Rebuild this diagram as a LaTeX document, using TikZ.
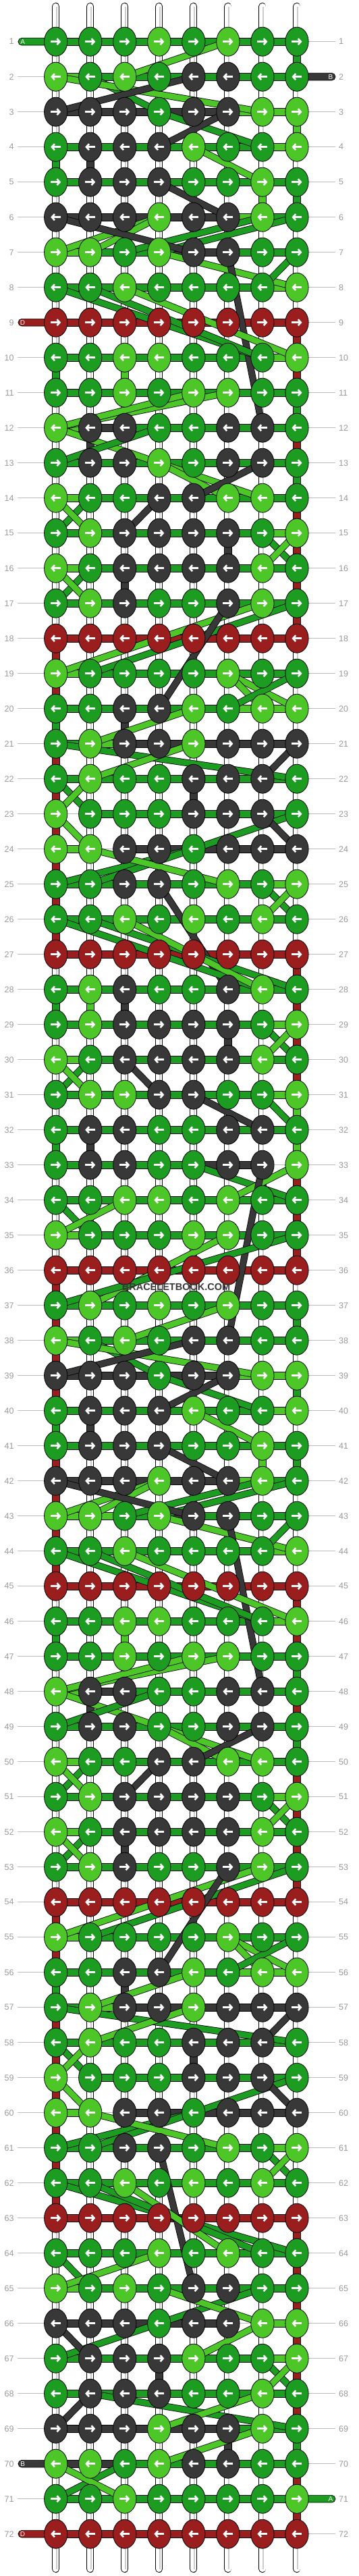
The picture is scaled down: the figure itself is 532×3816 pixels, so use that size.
\documentclass[tikz,border=0pt]{standalone}
\usepackage{fontspec}
\setmainfont{Liberation Sans}
\usetikzlibrary{shapes.geometric,arrows.meta}
\definecolor{kG}{HTML}{1C9C21}
\definecolor{kL}{HTML}{4DC628}
\definecolor{kD}{HTML}{383838}
\definecolor{kR}{HTML}{9A1E1E}
\definecolor{lblgray}{HTML}{999999}
\definecolor{linegray}{HTML}{BBBBBB}
\definecolor{strgray}{HTML}{CCCCCC}
\tikzset{
 knot/.style={ellipse, draw=black, line width=0.8pt, minimum width=34.3pt, minimum height=43pt, inner sep=0pt},
 barG/.style={fill=kG,draw=black,line width=0.7pt},
 barL/.style={fill=kL,draw=black,line width=0.7pt},
 barD/.style={fill=kD,draw=black,line width=0.7pt},
 barR/.style={fill=kR,draw=black,line width=0.7pt},
 barN/.style={draw=none,fill=none},
 thrG/.style={draw=kG, line width=8.6pt, preaction={draw=black, line width=10.2pt}},
 thrL/.style={draw=kL, line width=8.6pt, preaction={draw=black, line width=10.2pt}},
 thrD/.style={draw=kD, line width=8.6pt, preaction={draw=black, line width=10.2pt}},
 lbl/.style={text=lblgray, font=\fontsize{12.5}{13}\selectfont, inner sep=0pt},
 pilltxt/.style={text=white, font=\fontsize{10}{10}\selectfont, inner sep=0pt},
 arr/.style={white, line width=2.6pt, -{Straight Barb[length=4pt,width=9pt]}},
 glabel/.style={linegray, line width=0.8pt},
}
\def\rowdata{
1/{G,G,G,L,G,L,G,G}/{G,G,G,G,G,G,G},
2/{L,G,L,G,D,D,G,G}/{L,G,G,G,G,G,G},
3/{D,D,D,G,D,D,L,L}/{D,D,D,D,D,L,L},
4/{G,D,D,D,L,G,G,L}/{G,G,G,G,G,G,L},
5/{G,D,D,D,G,G,L,G}/{G,G,G,G,G,G,G},
6/{D,D,D,L,D,D,L,G}/{D,D,D,D,D,L,G},
7/{L,L,G,L,D,D,G,G}/{L,G,G,D,D,G,G},
8/{G,G,L,G,G,G,G,L}/{G,G,G,G,G,G,L},
9/{R,R,R,R,R,R,R,R}/{R,R,R,R,R,R,R},
10/{G,G,L,L,G,G,G,L}/{G,G,G,G,G,G,L},
11/{G,G,L,G,L,L,G,G}/{G,G,G,G,G,G,G},
12/{L,D,D,G,G,D,D,G}/{L,D,G,G,G,G,G},
13/{G,D,D,L,G,D,D,G}/{G,G,G,G,G,G,G},
14/{L,G,G,D,D,L,L,G}/{L,G,G,G,G,G,G},
15/{G,L,D,D,D,D,G,L}/{G,G,G,G,G,G,L},
16/{L,G,D,D,D,D,L,G}/{L,G,G,G,G,G,G},
17/{G,L,D,G,G,D,L,G}/{G,G,G,G,G,G,G},
18/{R,R,R,R,R,R,R,R}/{R,R,R,R,R,R,R},
19/{L,G,G,G,G,L,G,G}/{L,G,G,G,G,G,G},
20/{G,G,D,D,L,G,L,L}/{G,G,G,G,G,L,L},
21/{G,L,D,D,L,D,D,D}/{G,L,D,D,D,D,D},
22/{G,L,G,G,D,D,D,G}/{G,G,G,G,G,G,G},
23/{L,G,G,G,D,D,D,G}/{N,G,G,G,G,G,G},
24/{L,L,D,D,G,D,D,D}/{L,N,D,D,D,D,D},
25/{G,G,D,D,G,L,G,L}/{G,G,G,G,G,G,L},
26/{G,G,L,G,L,G,L,G}/{G,G,G,G,G,G,G},
27/{R,R,R,R,R,R,R,R}/{R,R,R,R,R,R,R},
28/{G,L,D,G,G,D,L,G}/{G,G,G,G,G,G,G},
29/{G,L,D,D,D,D,G,L}/{G,G,G,G,G,G,L},
30/{L,G,D,D,D,D,L,G}/{L,G,G,G,G,G,G},
31/{G,L,L,D,D,G,G,L}/{G,G,G,G,G,G,L},
32/{G,D,D,G,G,D,D,G}/{G,G,G,G,G,G,G},
33/{G,D,D,G,G,D,D,L}/{G,G,G,G,D,D,N},
34/{G,G,L,L,G,L,G,G}/{G,G,G,G,G,G,G},
35/{L,G,G,G,L,L,G,G}/{L,G,G,G,G,G,G},
36/{R,R,R,R,R,R,R,R}/{R,R,R,R,R,R,R},
37/{G,L,G,L,G,L,G,G}/{G,G,G,G,G,G,G},
38/{L,G,L,G,D,D,G,G}/{L,G,G,G,G,G,G},
39/{D,D,D,G,D,D,L,L}/{D,D,D,D,D,L,L},
40/{G,D,D,D,L,G,G,L}/{G,G,G,G,G,G,L},
41/{G,D,D,D,G,G,L,G}/{G,G,G,G,G,G,G},
42/{D,D,D,L,D,D,L,G}/{D,D,D,D,D,L,G},
43/{L,L,G,L,D,D,G,G}/{L,L,G,D,G,G,G},
44/{G,G,L,G,G,G,G,L}/{G,G,G,G,G,G,L},
45/{R,R,R,R,R,R,R,R}/{R,R,R,R,R,R,R},
46/{G,G,L,L,G,G,G,L}/{G,G,G,G,G,G,L},
47/{G,G,L,G,L,L,G,G}/{G,G,G,G,G,G,G},
48/{L,D,D,G,G,D,D,G}/{L,D,G,G,G,G,G},
49/{G,D,D,G,G,D,D,G}/{G,G,G,G,G,G,G},
50/{L,G,G,D,D,L,L,G}/{L,G,G,G,G,G,G},
51/{G,L,D,D,D,D,G,L}/{G,G,G,G,G,G,L},
52/{L,G,D,D,D,D,L,G}/{L,G,G,G,G,G,G},
53/{G,L,D,G,G,D,L,G}/{G,G,G,G,G,G,G},
54/{R,R,R,R,R,R,R,R}/{R,R,R,R,R,R,R},
55/{L,G,G,G,G,L,G,G}/{L,G,G,G,G,G,G},
56/{G,G,D,D,L,G,L,L}/{G,G,G,G,G,L,L},
57/{G,L,D,D,L,D,D,D}/{G,L,D,D,D,D,D},
58/{G,L,G,G,D,D,D,G}/{G,G,G,G,G,G,G},
59/{L,G,G,G,D,D,D,G}/{N,G,G,G,G,G,G},
60/{L,L,D,D,G,D,D,D}/{L,N,D,D,D,D,D},
61/{G,G,D,D,G,L,G,L}/{G,G,G,G,G,G,L},
62/{G,G,L,G,L,G,L,G}/{G,G,G,G,G,G,G},
63/{R,R,R,R,R,R,R,R}/{R,R,R,R,R,R,R},
64/{G,G,G,L,G,L,G,G}/{G,G,G,G,G,G,G},
65/{L,G,L,G,D,D,G,G}/{L,G,G,G,G,G,G},
66/{D,D,D,G,D,D,L,L}/{D,D,D,D,D,N,L},
67/{G,D,D,D,L,G,G,L}/{G,G,G,G,G,G,L},
68/{G,D,D,D,G,G,L,G}/{G,G,G,G,G,G,G},
69/{D,D,D,L,D,D,L,G}/{D,D,D,D,D,G,G},
70/{L,L,G,L,D,D,G,G}/{D,D,G,G,G,G,G},
71/{G,G,L,G,G,G,G,L}/{G,G,G,G,G,G,G},
72/{R,R,R,R,R,R,R,R}/{R,R,R,R,R,R,R}}
\begin{document}
\begin{tikzpicture}[x=1pt,y=-1pt]
\useasboundingbox (0,0) rectangle (532,3816);
\fill[white] (0,0) rectangle (532,3816);
% row label guide lines
\foreach \r in {1,...,72}{
  \pgfmathsetmacro\y{61.7+52*(\r-1)}
  \coordinate (gl\r) at (26,\y);
  \coordinate (gr\r) at (497,\y);
  \draw[glabel] (gl\r) -- (gr\r);
}
% base strings
\foreach \c in {1,...,8}{
  \pgfmathsetmacro\x{82.7+51.04*(\c-1)}
  \coordinate (st\c) at (\x,9.5);
  \coordinate (sb\c) at (\x,3805.5);
  \draw[black, line width=11pt, line cap=round] (st\c) -- (sb\c);
  \draw[white, line width=9.2pt, line cap=round] (st\c) -- (sb\c);
  \draw[strgray, line width=1.8pt] ([xshift=1.4pt,yshift=-1pt]st\c) -- ([xshift=1.4pt]sb\c);
}
% coloured vertical stubs
\foreach \c/\r/\k in {8/1/G,8/3/L,8/5/G,1/4/G,2/4/D,7/5/L,1/10/G,3/10/L,2/12/D,
  8/9/R,8/10/R,8/11/G,8/12/R,8/13/G,8/14/R,8/15/R,8/16/R,8/17/R,6/15/D,3/16/D,
  1/18/R,1/19/R,1/20/G,1/21/R,1/22/R,1/23/R,1/24/R,1/25/R,1/26/R,3/20/D,5/22/D,
  8/27/R,8/28/R,8/29/R,8/30/R,8/31/L,8/32/L,8/33/R,8/34/R,8/35/R,
  1/28/G,2/28/L,3/28/D,6/29/D,1/32/G,2/32/D,7/33/D,
  1/36/R,1/37/R,1/38/R,1/39/R,1/40/G,1/41/R,1/42/R,1/43/R,1/44/R,
  8/37/G,8/39/G,2/40/D,7/41/L,8/41/G,
  8/45/R,8/46/R,8/47/G,8/48/R,8/49/G,8/50/R,8/51/R,8/52/R,8/53/R,
  1/46/G,3/46/L,2/48/D,3/52/D,
  1/54/R,1/55/R,1/56/G,1/57/R,1/58/R,1/59/R,1/60/R,1/61/R,1/62/R,3/56/D,5/58/D,
  8/63/R,8/64/R,8/65/R,8/66/R,8/67/R,8/68/R,8/69/G,8/70/R,8/71/R,4/67/D,6/69/D}{
  \pgfmathsetmacro\x{82.7+51.04*(\c-1)}
  \pgfmathsetmacro\ya{61.7+52*(\r-1)}
  \pgfmathsetmacro\yb{\ya+52}
  \path[bar\k] (\x-5.3,\ya) rectangle (\x+5.3,\yb);
}
% pass 1: horizontal bars and knot positions
\foreach \r/\ks/\bs in \rowdata {
  \pgfmathsetmacro\y{61.7+52*(\r-1)}
  \foreach \b [count=\j] in \bs {
    \pgfmathsetmacro\xa{82.7+51.04*(\j-1)}
    \pgfmathsetmacro\xb{\xa+51.04}
    \path[bar\b] (\xa,\y-5.35) rectangle (\xb,\y+5.35);
  }
  \foreach \c in {1,...,8}{
    \pgfmathsetmacro\x{82.7+51.04*(\c-1)}
    \coordinate (p\r-\c) at (\x,\y);
  }
}
% thread end pills
\foreach \r/\k/\t/\s in {1/G/A/l,2/D/B/r,9/R/D/l,70/D/B/l,71/G/A/r,72/R/D/l}{
  \pgfmathsetmacro\y{61.7+52*(\r-1)}
  \if l\s
    \path[bar\k, rounded corners=5.3pt] (27,\y-5.35) rectangle (90,\y+5.35);
    \node[pilltxt] (p\r) at (33.6,\y) {\t};
  \else
    \path[bar\k, rounded corners=5.3pt] (432,\y-5.35) rectangle (497,\y+5.35);
    \node[pilltxt] (p\r) at (490,\y) {\t};
  \fi
}
% diagonal threads, repeated blocks
\foreach \o in {0,36}{
  \foreach \a/\b/\e/\f/\k in {1/6/2/3/L,2/2/3/4/G,3/4/4/7/G,2/1/3/7/L,3/1/2/5/D,4/4/3/6/D,
    4/5/5/7/L,5/4/6/6/D,6/8/7/4/G,6/7/7/3/G,6/4/7/1/L,6/4/7/2/L,6/1/7/5/D,7/4/8/8/L,
    7/6/12/7/D,7/8/8/7/G,8/1/10/7/G,8/2/10/7/G,8/3/10/8/L,
    11/6/12/1/L,11/5/12/1/L,12/1/13/4/L,13/1/12/4/G,13/4/14/7/L,13/4/14/6/L,14/5/13/7/D,
    14/2/15/1/G,14/1/15/2/L,14/4/15/3/D,15/7/16/8/G,15/8/16/7/L,16/2/17/1/G,16/1/17/2/L,
    17/7/19/1/L,17/8/19/2/G,17/6/20/4/D,19/6/20/8/L,19/6/20/7/L,20/6/19/8/G,20/5/21/2/L,
    21/1/22/8/G,21/5/22/2/L,21/8/22/7/D,22/1/23/2/G,22/2/23/1/L,23/1/24/2/L,23/8/24/5/G,
    24/5/25/1/G,24/5/25/2/G,23/7/24/8/D,24/2/25/6/L,25/7/26/8/G,25/8/26/7/L}{
    \pgfmathtruncatemacro\ra{\a+\o}
    \pgfmathtruncatemacro\rb{\e+\o}
    \draw[thr\k] (p\ra-\b) -- (p\rb-\f);
  }
}
% diagonal threads, single blocks
\foreach \a/\b/\e/\f/\k in {25/4/28/6/D,26/1/28/7/G,26/2/28/8/G,26/3/28/7/L,29/7/30/8/G,
  29/8/30/7/L,30/2/31/1/G,30/1/31/2/L,30/3/31/4/D,31/5/32/7/D,31/7/32/8/G,33/5/34/8/G,
  33/8/34/6/L,33/7/38/6/D,34/1/35/2/G,34/3/35/1/L,35/6/37/2/L,35/8/37/1/G,
  61/4/65/5/D,62/1/64/8/G,62/2/64/7/G,62/3/64/6/L,64/1/65/2/G,64/4/65/1/L,65/7/66/4/G,
  66/4/67/1/G,65/4/66/7/L,66/7/67/5/L,66/1/67/2/D,67/7/68/8/G,67/8/68/7/L,68/2/69/1/D,
  68/2/69/8/G,68/7/69/4/L,69/7/70/4/L,70/3/71/1/G,70/1/71/3/L}{
  \draw[thr\k] (p\a-\b) -- (p\e-\f);
}
% pass 2: knots, arrows, labels
\foreach \r/\ks/\bs in \rowdata {
  \pgfmathsetmacro\y{61.7+52*(\r-1)}
  \foreach \k [count=\c] in \ks {
    \node[knot, fill=k\k] (k\r-\c) at (p\r-\c) {};
    \ifodd\r
      \draw[arr] ([xshift=-7.5pt]k\r-\c.center) -- ([xshift=7.5pt]k\r-\c.center);
    \else
      \draw[arr] ([xshift=7.5pt]k\r-\c.center) -- ([xshift=-7.5pt]k\r-\c.center);
    \fi
  }
  \node[lbl, anchor=east] (ll\r) at (20.7,\y) {\r};
  \node[lbl, anchor=west] (lr\r) at (502,\y) {\r};
}
% watermark
\node[text=kD, font=\bfseries\fontsize{14.5}{15}\selectfont, inner sep=0pt] (wm) at (261,1906.5) {BRACELETBOOK.COM};
\end{tikzpicture}
\end{document}
